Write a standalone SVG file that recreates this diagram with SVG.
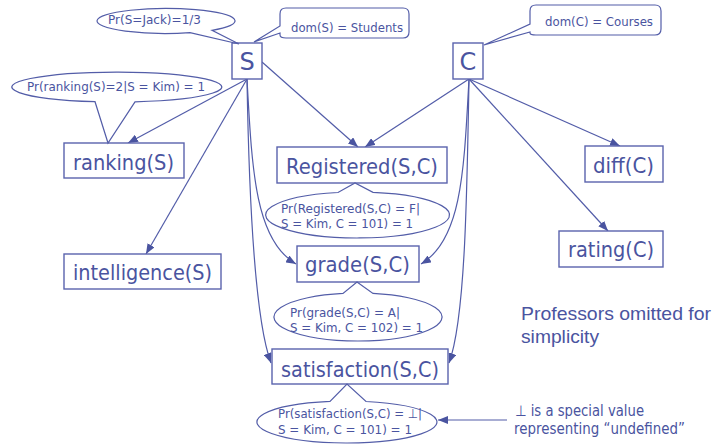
<svg xmlns="http://www.w3.org/2000/svg" width="717" height="444" viewBox="0 0 717 444">
<defs>
<style>
text{font-family:"DejaVu Sans","Liberation Sans",Arial,sans-serif;fill:#4a54a0}
.big{font-size:22px}
.var{font-size:24px}
.sm{font-size:13px}
.note{font-family:"Liberation Sans",Arial,sans-serif;font-size:18.5px}
.box{fill:#fff;stroke:#5a63ad;stroke-width:1.4}
.co{fill:#fff;stroke:#535da8;stroke-width:1.2}
.edge{fill:none;stroke:#525ca8;stroke-width:1.2}
</style>
<marker id="ah" viewBox="0 0 10 8" refX="10" refY="4" markerWidth="10" markerHeight="8" orient="auto" markerUnits="userSpaceOnUse">
<path d="M0,0 L10,4 L0,8 z" fill="#4a54a0"/>
</marker>
</defs>
<rect width="717" height="444" fill="#fff"/>

<g id="connectors">
<line class="edge" x1="247" y1="79" x2="128" y2="143" marker-end="url(#ah)"/>
<line class="edge" x1="247" y1="79" x2="146" y2="254" marker-end="url(#ah)"/>
<line class="edge" x1="262" y1="62" x2="358" y2="147" marker-end="url(#ah)"/>
<line class="edge" x1="469" y1="79" x2="365" y2="147" marker-end="url(#ah)"/>
<line class="edge" x1="469" y1="79" x2="620" y2="146" marker-end="url(#ah)"/>
<line class="edge" x1="469" y1="79" x2="608" y2="231" marker-end="url(#ah)"/>
<path class="edge" d="M247,79 C252,170 255,240 296,264" marker-end="url(#ah)"/>
<path class="edge" d="M469,79 C464,170 462,240 421,264" marker-end="url(#ah)"/>
<path class="edge" d="M247,79 C249,200 255,320 271,363" marker-end="url(#ah)"/>
<path class="edge" d="M469,79 C467,200 465,320 449,363" marker-end="url(#ah)"/>
<line class="edge" x1="507" y1="420" x2="438" y2="420" marker-end="url(#ah)"/>
</g>

<g id="node-S">
<rect class="box" x="232" y="43" width="30" height="36"/>
<text class="var" x="247" y="70" text-anchor="middle">S</text>
</g>
<g id="node-C">
<rect class="box" x="453" y="43" width="30" height="36"/>
<text class="var" x="468" y="70" text-anchor="middle">C</text>
</g>
<g id="node-ranking">
<rect class="box" x="64" y="143" width="120" height="35"/>
<text class="big" x="73" y="170" textLength="101" lengthAdjust="spacingAndGlyphs">ranking(S)</text>
</g>
<g id="node-intelligence">
<rect class="box" x="64" y="254" width="157" height="35"/>
<text class="big" x="73" y="280" textLength="139" lengthAdjust="spacingAndGlyphs">intelligence(S)</text>
</g>
<g id="node-registered">
<rect class="box" x="277" y="147" width="170" height="36"/>
<text class="big" x="286" y="174" textLength="152" lengthAdjust="spacingAndGlyphs">Registered(S,C)</text>
</g>
<g id="node-diff">
<rect class="box" x="585" y="146" width="78" height="36"/>
<text class="big" x="593" y="173" textLength="61" lengthAdjust="spacingAndGlyphs">diff(C)</text>
</g>
<g id="node-rating">
<rect class="box" x="559" y="231" width="104" height="36"/>
<text class="big" x="568" y="257" textLength="86" lengthAdjust="spacingAndGlyphs">rating(C)</text>
</g>
<g id="node-grade">
<rect class="box" x="297" y="246" width="122" height="36"/>
<text class="big" x="305" y="272" textLength="105" lengthAdjust="spacingAndGlyphs">grade(S,C)</text>
</g>
<g id="node-satisfaction">
<rect class="box" x="272" y="349" width="176" height="35"/>
<text class="big" x="281" y="377" textLength="158" lengthAdjust="spacingAndGlyphs">satisfaction(S,C)</text>
</g>

<g id="callout-jack">
<path class="co" d="M190,32.7 A69,12.5 0 1,1 212,30.3 L239,44 Z"/>
<text class="sm" x="108" y="24" textLength="93" lengthAdjust="spacingAndGlyphs">Pr(S=Jack)=1/3</text>
</g>
<g id="callout-domS">
<path class="co" d="M286,8 H403 Q409,8 409,14 V32 Q409,38 403,38 H286 Q280,38 280,35 V33 L254,42 L280,26 V14 Q280,8 286,8 Z"/>
<text class="sm" x="291" y="32" textLength="112" lengthAdjust="spacingAndGlyphs">dom(S) = Students</text>
</g>
<g id="callout-domC">
<path class="co" d="M536,5 H655 Q661,5 661,11 V29 Q661,35 655,35 H536 Q530,35 530,33 V32 L484,45 L530,24 V11 Q530,5 536,5 Z"/>
<text class="sm" x="545" y="26" textLength="108" lengthAdjust="spacingAndGlyphs">dom(C) = Courses</text>
</g>
<g id="callout-ranking">
<path class="co" d="M95,101.7 A105,15 0 1,1 135,101.8 L108,143 Z"/>
<text class="sm" x="27" y="91" textLength="178" lengthAdjust="spacingAndGlyphs">Pr(ranking(S)=2|S = Kim) = 1</text>
</g>
<g id="callout-registered">
<path class="co" d="M338,192.5 A92,23 0 1,0 373,192.3 L355,183 Z"/>
<text class="sm" x="281" y="213" textLength="139" lengthAdjust="spacingAndGlyphs">Pr(Registered(S,C) = F|</text>
<text class="sm" x="281" y="228" textLength="132" lengthAdjust="spacingAndGlyphs">S = Kim, C = 101) = 1</text>
</g>
<g id="callout-grade">
<path class="co" d="M343,293.4 A84,24 0 1,0 373,293.4 L357,282 Z"/>
<text class="sm" x="290" y="317" textLength="110" lengthAdjust="spacingAndGlyphs">Pr(grade(S,C) = A|</text>
<text class="sm" x="290" y="332" textLength="133" lengthAdjust="spacingAndGlyphs">S = Kim, C = 102) = 1</text>
</g>
<g id="callout-satisfaction">
<path class="co" d="M330,401.4 A90,21 0 1,0 366,401.5 L347,384 Z"/>
<text class="sm" x="278" y="418" textLength="144" lengthAdjust="spacingAndGlyphs">Pr(satisfaction(S,C) = ⊥|</text>
<text class="sm" x="278" y="434" textLength="134" lengthAdjust="spacingAndGlyphs">S = Kim, C = 101) = 1</text>
</g>

<g id="note-professors">
<text class="note" x="521" y="320" textLength="190" lengthAdjust="spacingAndGlyphs">Professors omitted for</text>
<text class="note" x="521" y="343" textLength="78" lengthAdjust="spacingAndGlyphs">simplicity</text>
</g>
<g id="note-bottom">
<text x="515" y="416" style="font-size:15px" textLength="129" lengthAdjust="spacingAndGlyphs">⊥ is a special value</text>
<text x="514" y="434" style="font-size:15px" textLength="171" lengthAdjust="spacingAndGlyphs">representing “undefined”</text>
</g>
</svg>
